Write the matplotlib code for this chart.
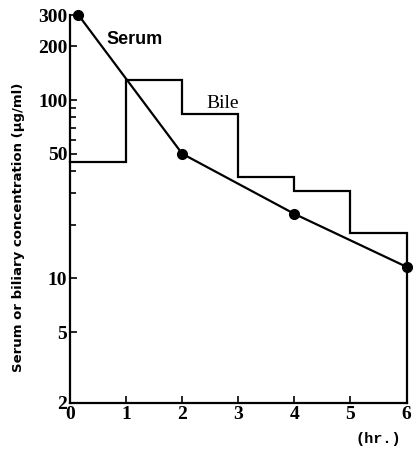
import matplotlib
matplotlib.use("Agg")
import matplotlib.pyplot as plt
from matplotlib.ticker import FixedLocator, NullFormatter

# Data
serum_t = [0.15, 2, 4, 6]
serum_c = [300, 50, 23, 11.6]

bile_edges = [0, 1, 2, 3, 4, 5, 6]
bile_c = [45, 129, 84, 37, 31, 18]

x_ticks = [0, 1, 2, 3, 4, 5, 6]
y_ticks = [2, 5, 10, 50, 100, 200, 300]
y_minor = [20, 30, 40, 60, 70, 80, 90]

fig = plt.figure(figsize=(4.13, 4.55), dpi=100)
ax = fig.add_axes([0.1695, 0.1143, 0.815, 0.8527])
ax.set_yscale("log")
ax.set_xlim(0, 6)
ax.set_ylim(2, 300)

# Bile step
bx = [bile_edges[0]]
by = [bile_c[0]]
for i, v in enumerate(bile_c):
    bx += [bile_edges[i], bile_edges[i + 1]]
    by += [v, v]
bx.append(bile_edges[-1])
by.append(2)
ax.plot(bx, by, color="black", lw=1.6, clip_on=False, solid_joinstyle="miter")

# Serum
ax.plot(serum_t, serum_c, color="black", lw=1.6, marker="o", ms=7, clip_on=False, zorder=5)

ax.spines["top"].set_visible(False)
ax.spines["right"].set_visible(False)
for s in ("left", "bottom"):
    ax.spines[s].set_linewidth(1.6)

ax.yaxis.set_major_locator(FixedLocator(y_ticks))
ax.set_yticklabels([str(v) for v in y_ticks])
ax.yaxis.set_minor_locator(FixedLocator(y_minor))
ax.yaxis.set_minor_formatter(NullFormatter())
ax.set_xticks(x_ticks)
ax.set_xticklabels([str(v) for v in x_ticks])

ax.tick_params(axis="both", which="major", direction="in", length=5, width=1.2, pad=2)
ax.tick_params(axis="y", which="minor", direction="in", length=4, width=1.2)
for lab in ax.get_xticklabels() + ax.get_yticklabels():
    lab.set_fontfamily("Liberation Serif")
    lab.set_fontweight("bold")
    lab.set_fontsize(14)

ax.text(0.65, 220, "Serum", fontsize=13, fontweight="bold", family="Liberation Sans",
        va="center", ha="left")
ax.text(2.43, 96, "Bile", fontsize=14, family="Liberation Serif", va="center", ha="left")

fig.text(0.045, 0.5, "Serum or biliary concentration (μg/ml)", rotation=90,
         fontsize=9.5, fontweight="bold", family="DejaVu Sans", va="center", ha="center")
fig.text(0.915, 0.035, "(hr.)", fontsize=11, fontweight="bold", family="Liberation Mono",
         va="center", ha="center")

fig.savefig("out.png", dpi=100)
